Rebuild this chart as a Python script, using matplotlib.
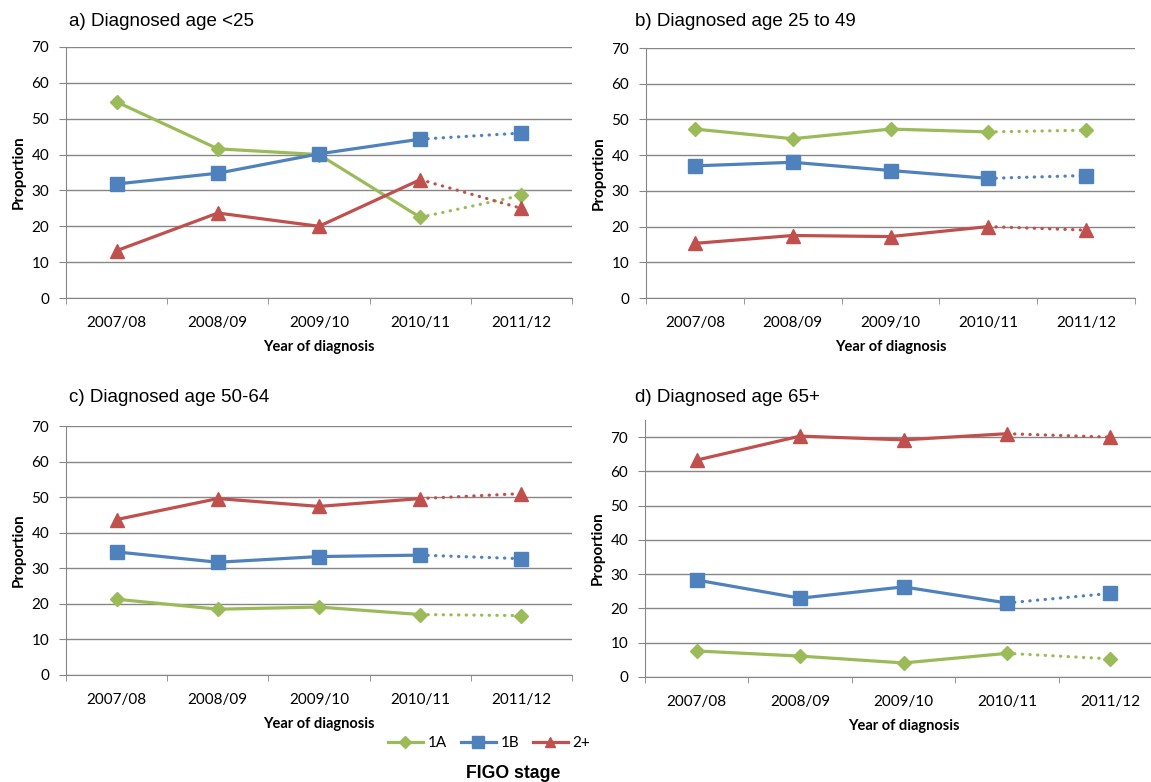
import matplotlib
matplotlib.use("Agg")
import matplotlib.pyplot as plt
from matplotlib.lines import Line2D

# data
years = ['2007/08', '2008/09', '2009/10', '2010/11', '2011/12']
stages = ['1A', '1B', '2+']

a_1A = [54.7, 41.6, 40.0, 22.5, 28.6]
a_1B = [31.8, 34.8, 40.2, 44.3, 46.0]
a_2p = [13.2, 23.7, 20.0, 33.0, 25.0]

b_1A = [47.3, 44.6, 47.3, 46.5, 47.0]
b_1B = [37.0, 38.0, 35.7, 33.5, 34.3]
b_2p = [15.3, 17.5, 17.2, 20.0, 19.0]

c_1A = [21.3, 18.5, 19.1, 17.0, 16.7]
c_1B = [34.6, 31.7, 33.3, 33.7, 32.7]
c_2p = [43.7, 49.6, 47.4, 49.6, 51.0]

d_1A = [7.6, 6.1, 4.1, 6.9, 5.3]
d_1B = [28.3, 23.0, 26.3, 21.6, 24.4]
d_2p = [63.3, 70.3, 69.2, 71.0, 70.0]

titles = ['a) Diagnosed age <25', 'b) Diagnosed age 25 to 49',
          'c) Diagnosed age 50-64', 'd) Diagnosed age 65+']

cols = ['#9BBB59', '#4F81BD', '#C0504D']
marks = ['D', 's', '^']
msize = [7.5, 10, 9.5]
grid_c = '#868686'
tick_font = 'Lato'
LW = 2.3

fig = plt.figure(figsize=(11.51, 7.82), dpi=100)
W, H = 1151.0, 782.0

def box(l, t, r, b):
    return [l / W, 1 - b / H, (r - l) / W, (b - t) / H]

# axes box (px), series, y max, title x, title y
panels = [
    (box(66, 47, 572, 298), [a_1A, a_1B, a_2p], 70, 69, 22),
    (box(646, 48, 1135, 298), [b_1A, b_1B, b_2p], 70, 635, 22),
    (box(66, 426, 572, 675), [c_1A, c_1B, c_2p], 70, 69, 398),
    (box(645, 420, 1162, 677), [d_1A, d_1B, d_2p], 75, 635, 397),
]

for k, (pos, series, ytop, tx, ty) in enumerate(panels):
    ax = fig.add_axes(pos)
    x = list(range(len(years)))
    for s, vals in enumerate(series):
        ax.plot(x[:4], vals[:4], color=cols[s], lw=LW, marker=marks[s],
                ms=msize[s], zorder=3)
        ax.plot(x[3:], vals[3:], color=cols[s], lw=LW, ls=(0, (0.1, 2.3)),
                dash_capstyle='round', zorder=3)
        ax.plot(x[4:], vals[4:], color=cols[s], lw=0, marker=marks[s],
                ms=msize[s], zorder=4)
    ax.set_xlim(-0.5, 4.5)
    ax.set_ylim(0, ytop)
    ax.set_yticks(range(0, 71, 10))
    ax.yaxis.grid(True, color=grid_c, lw=1)
    ax.set_axisbelow(True)
    ax.set_xticks(x)
    ax.set_xticklabels(years, fontsize=11, family=tick_font)
    ax.tick_params(axis='x', which='major', length=0, pad=13)
    ax.set_xticks([i - 0.5 for i in range(6)], minor=True)
    ax.tick_params(axis='x', which='minor', length=4, color=grid_c, direction='out')
    ax.tick_params(axis='y', length=5, color=grid_c, labelsize=11, pad=7)
    for lab in ax.get_yticklabels():
        lab.set_family(tick_font)
    for sp in ['top', 'right']:
        ax.spines[sp].set_visible(False)
    for sp in ['left', 'bottom']:
        ax.spines[sp].set_color(grid_c)
    ax.set_xlabel('Year of diagnosis', fontsize=10.5, fontweight='bold',
                  family=tick_font, labelpad=7)
    ax.set_ylabel('Proportion', fontsize=11, fontweight='bold',
                  family=tick_font, labelpad=4)
    fig.text(tx / W, 1 - ty / H, titles[k], fontsize=13.5,
             family='Liberation Sans', va='center', ha='left')

handles = [Line2D([0], [0], color=cols[i], lw=LW, marker=marks[i], ms=msize[i] * 0.8)
           for i in range(3)]
fig.legend(handles, stages, loc='center', bbox_to_anchor=(489 / W, 1 - 743 / H),
           ncol=3, frameon=False, prop={'family': tick_font, 'size': 11},
           handlelength=2.3, columnspacing=0.9, handletextpad=0.3)
fig.text(513 / W, 1 - 773 / H, 'FIGO stage', fontsize=12.7, fontweight='bold',
         family='Liberation Sans', ha='center', va='center')

fig.savefig('out.png', dpi=100)
